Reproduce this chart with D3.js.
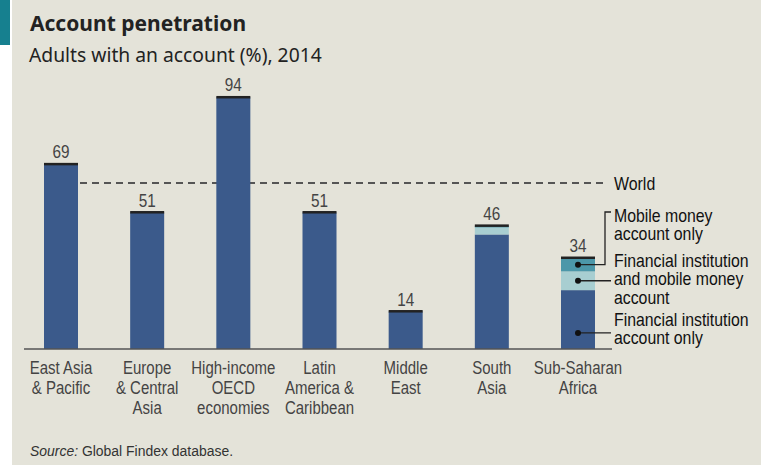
<!DOCTYPE html>
<html>
<head>
<meta charset="utf-8">
<script src="https://cdn.jsdelivr.net/npm/d3@7"></script>
<style>
  body { margin: 0; background: #fff; }
  svg { display: block; }
</style>
</head>
<body>
<div id="chart"></div>
<script>
// values (% of adults, 2014)
const regions = [
  ["East Asia", "& Pacific"],
  ["Europe", "& Central", "Asia"],
  ["High-income", "OECD", "economies"],
  ["Latin", "America &", "Caribbean"],
  ["Middle", "East"],
  ["South", "Asia"],
  ["Sub-Saharan", "Africa"]
];
const fiOnly = [69, 51, 94, 51, 14, 42.8, 22];
const fiAndMobile = [0, 0, 0, 0, 0, 2.6, 7];
const mobileOnly = [0, 0, 0, 0, 0, 0.6, 5];
const totals = [69, 51, 94, 51, 14, 46, 34];
const worldValue = 62;

const legendLabels = [
  ["Mobile money", "account only"],
  ["Financial institution", "and mobile money", "account"],
  ["Financial institution", "account only"]
];

const W = 761, H = 466;
// no Arial Narrow here, so squeeze Liberation Sans horizontally
const narrow = "'Liberation Sans', Arial, sans-serif";
const colors = { fi: "#3b5a8b", both: "#a8ced1", mobile: "#4c97a9", cap: "#222" };

const svg = d3.select("#chart").append("svg")
  .attr("width", W)
  .attr("height", H);

function ntext(parent, x, y, size, fill, sq) {
  return parent.append("text")
    .attr("transform", `translate(${x},${y}) scale(${sq},1)`)
    .attr("font-family", narrow).attr("font-size", size).attr("fill", fill);
}

// background panel + teal tab
svg.append("rect").attr("x", 12).attr("y", 0).attr("width", W - 12).attr("height", 465).attr("fill", "#e4e3d9");
svg.append("rect").attr("x", 0).attr("y", 0).attr("width", 10).attr("height", 45).attr("fill", "#16808f");

svg.append("text").attr("x", 30).attr("y", 31)
  .attr("font-family", "'Noto Sans', sans-serif").attr("font-weight", 700).attr("font-size", 21)
  .attr("fill", "#222").text("Account penetration");
svg.append("text").attr("x", 29).attr("y", 62)
  .attr("font-family", "'Noto Sans', sans-serif").attr("font-size", 19.3)
  .attr("fill", "#222").text("Adults with an account (%), 2014");

// scales
const idx = d3.range(regions.length);
const x = d3.scalePoint().domain(idx).range([61, 578]);
const y = d3.scaleLinear().domain([0, 100]).range([349, 81.4]);
const bw = 34;

// world line (behind bars)
svg.append("line")
  .attr("x1", 44).attr("x2", 607)
  .attr("y1", y(worldValue)).attr("y2", y(worldValue))
  .attr("stroke", "#555").attr("stroke-width", 2).attr("stroke-dasharray", "7,5");
ntext(svg, 614, y(worldValue) + 7, 18.5, "#111", 0.86).text("World");

// stacked bars
const stack = idx.map(i => [
  { key: "fi", y0: 0, y1: fiOnly[i] },
  { key: "both", y0: fiOnly[i], y1: fiOnly[i] + fiAndMobile[i] },
  { key: "mobile", y0: fiOnly[i] + fiAndMobile[i], y1: fiOnly[i] + fiAndMobile[i] + mobileOnly[i] }
]);

const g = svg.selectAll("g.bar").data(idx).enter().append("g").attr("class", "bar");
g.selectAll("rect")
  .data(i => stack[i].filter(s => s.y1 > s.y0).map(s => Object.assign({ i }, s)))
  .enter().append("rect")
  .attr("x", d => x(d.i) - bw / 2)
  .attr("width", bw)
  .attr("y", d => y(d.y1))
  .attr("height", d => y(d.y0) - y(d.y1))
  .attr("fill", d => colors[d.key]);

// black cap on top
g.append("rect")
  .attr("x", i => x(i) - bw / 2)
  .attr("width", bw)
  .attr("y", i => y(totals[i]) - 1.5)
  .attr("height", 2.5)
  .attr("fill", colors.cap);

// value labels
g.each(function(i) {
  ntext(d3.select(this), x(i), y(totals[i]) - 6, 18, "#444", 0.85)
    .attr("text-anchor", "middle").text(totals[i]);
});

// baseline
svg.append("line").attr("x1", 24).attr("x2", 612).attr("y1", y(0)).attr("y2", y(0))
  .attr("stroke", "#555").attr("stroke-width", 1.5);

// category labels
idx.forEach(i => {
  regions[i].forEach((s, k) => {
    ntext(svg, x(i), 374 + k * 20, 18.5, "#444", 0.81).attr("text-anchor", "middle").text(s);
  });
});

// legend leaders on the Sub-Saharan Africa bar
const last = regions.length - 1;
const cx = x(last);
const dotY = [
  y(fiOnly[last] + fiAndMobile[last] + mobileOnly[last] / 2),
  y(fiOnly[last] + fiAndMobile[last] / 2),
  y(6)
];
const labelTop = [215, 260, 319];

svg.append("path")
  .attr("d", `M${cx},${dotY[0]}H605V${labelTop[0] - 3}H611`)
  .attr("fill", "none").attr("stroke", "#222").attr("stroke-width", 1.3);
svg.append("path").attr("d", `M${cx},${dotY[1]}H611`).attr("fill", "none").attr("stroke", "#222").attr("stroke-width", 1.3);
svg.append("path").attr("d", `M${cx},${dotY[2]}H611`).attr("fill", "none").attr("stroke", "#222").attr("stroke-width", 1.3);
svg.selectAll("circle.dot").data(dotY).enter().append("circle")
  .attr("cx", cx).attr("cy", d => d).attr("r", 3).attr("fill", "#111");

legendLabels.forEach((lines, k) => {
  lines.forEach((s, j) => {
    ntext(svg, 614, labelTop[k] + 6.5 + j * 18.5, 18, "#111", 0.88).text(s);
  });
});

// source
const src = ntext(svg, 30, 456, 15.5, "#333", 0.9);
src.append("tspan").attr("font-style", "italic").text("Source:");
src.append("tspan").text(" Global Findex database.");
</script>
</body>
</html>
